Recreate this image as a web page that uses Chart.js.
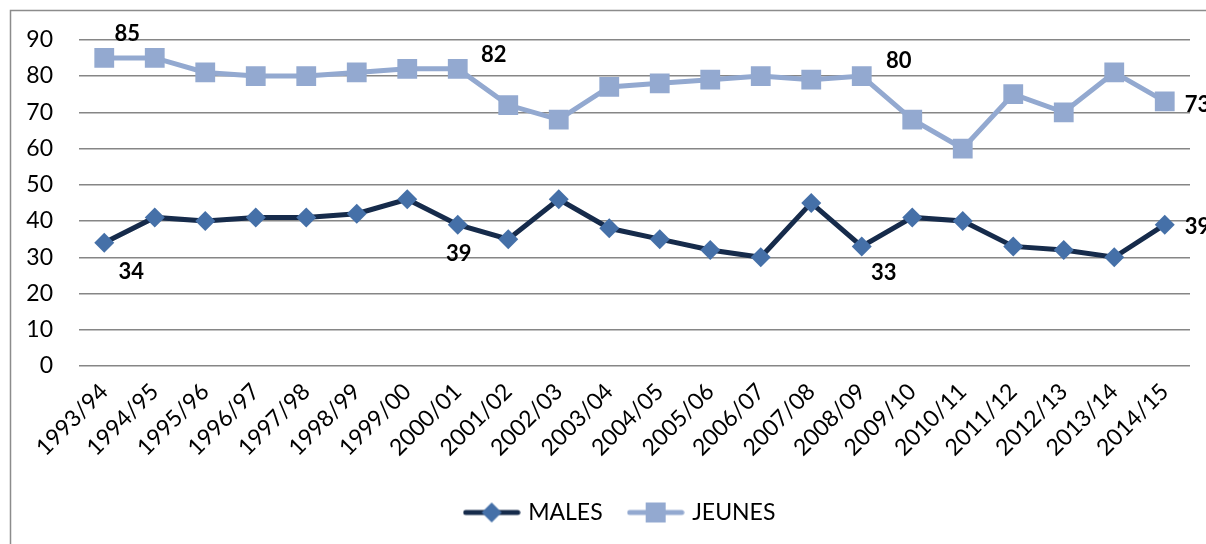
<!DOCTYPE html>
<html>
<head>
<meta charset="utf-8">
<script src="https://cdn.jsdelivr.net/npm/chart.js@4"></script>
<style>
  html, body { margin: 0; padding: 0; background: #fff; }
  #wrap { width: 1206px; height: 544px; position: relative; }
</style>
</head>
<body>
<div id="wrap"><canvas id="myChart" width="1206" height="544"></canvas></div>
<script>
const seasons = ['1993/94', '1994/95', '1995/96', '1996/97', '1997/98', '1998/99', '1999/00', '2000/01',
    '2001/02', '2002/03', '2003/04', '2004/05', '2005/06', '2006/07', '2007/08', '2008/09',
    '2009/10', '2010/11', '2011/12', '2012/13', '2013/14', '2014/15'];
const males = [34, 41, 40, 41, 41, 42, 46, 39, 35, 46, 38, 35, 32, 30, 45, 33, 41, 40, 33, 32, 30, 39];
const jeunes = [85, 85, 81, 80, 80, 81, 82, 82, 72, 68, 77, 78, 79, 80, 79, 80, 68, 60, 75, 70, 81, 73];
const yTicks = [0, 10, 20, 30, 40, 50, 60, 70, 80, 90];
// which points carry a value label
const malesLabelled = [0, 7, 15, 21];
const jeunesLabelled = [0, 7, 15, 21];

const FONT = 'Lato, "Open Sans", "DejaVu Sans", sans-serif';

// legend swatch: line with the marker in the middle
function legendSwatch(lineColor, markerColor, square) {
    const c = document.createElement('canvas');
    c.width = 58;
    c.height = 22;
    const g = c.getContext('2d');
    g.strokeStyle = lineColor;
    g.lineWidth = 5;
    g.lineCap = 'round';
    g.beginPath();
    g.moveTo(3, 11);
    g.lineTo(55, 11);
    g.stroke();
    g.fillStyle = markerColor;
    if (square) {
        g.fillRect(19, 1, 20, 20);
    } else {
        g.beginPath();
        g.moveTo(29, 1);
        g.lineTo(39, 11);
        g.lineTo(29, 21);
        g.lineTo(19, 11);
        g.closePath();
        g.fill();
    }
    return c;
}

const frame = {
    id: 'frame',
    beforeDraw(chart) {
        const ctx = chart.ctx;
        ctx.save();
        ctx.strokeStyle = '#8c8c8c';
        ctx.lineWidth = 1.5;
        ctx.beginPath();
        ctx.moveTo(10.5, 560);
        ctx.lineTo(10.5, 10.5);
        ctx.lineTo(1220, 10.5);
        ctx.stroke();
        ctx.restore();
    }
};

// legend is centred on the outer frame, a bit right of the canvas centre
const legendShift = {
    id: 'legendShift',
    afterLayout(chart) {
        chart.legend.left += 26;
        chart.legend.right += 26;
    }
};

const valueLabels = {
    id: 'valueLabels',
    afterDatasetsDraw(chart) {
        const ctx = chart.ctx;
        ctx.save();
        ctx.font = 'bold 22px ' + FONT;
        ctx.fillStyle = '#000';
        ctx.textBaseline = 'middle';
        const sets = [
            { ds: 0, idx: malesLabelled, offs: [[27, 29], [1, 29], [22, 27], [20, 2]] },
            { ds: 1, idx: jeunesLabelled, offs: [[23, -24], [36, -14], [37, -15], [20, 3]] }
        ];
        sets.forEach(s => {
            const meta = chart.getDatasetMeta(s.ds);
            s.idx.forEach((i, k) => {
                const p = meta.data[i];
                const v = chart.data.datasets[s.ds].data[i];
                const o = s.offs[k];
                ctx.textAlign = (i === seasons.length - 1) ? 'left' : 'center';
                ctx.fillText(String(v), p.x + o[0], p.y + o[1]);
            });
        });
        ctx.restore();
    }
};

const ctx = document.getElementById('myChart').getContext('2d');
new Chart(ctx, {
    type: 'line',
    data: {
        labels: seasons,
        datasets: [
            {
                label: 'MALES',
                data: males,
                borderColor: '#162b4b',
                backgroundColor: '#4570a8',
                pointBackgroundColor: '#4570a8',
                pointBorderWidth: 0,
                pointStyle: 'rectRot',
                pointRadius: 10,
                pointHoverRadius: 10,
                borderWidth: 5,
                tension: 0
            },
            {
                label: 'JEUNES',
                data: jeunes,
                borderColor: '#93a9d0',
                backgroundColor: '#93a9d0',
                pointBackgroundColor: '#93a9d0',
                pointBorderWidth: 0,
                pointStyle: 'rect',
                pointRadius: 14,
                pointHoverRadius: 14,
                borderWidth: 5,
                tension: 0
            }
        ]
    },
    options: {
        responsive: false,
        animation: false,
        layout: { padding: { top: 39, right: 16, left: 0, bottom: 10 } },
        scales: {
            x: {
                offset: true,
                grid: { display: false },
                border: { display: false },
                afterFit(scale) { scale.height = 107; },
                ticks: {
                    color: '#000',
                    font: { family: FONT, size: 23 },
                    maxRotation: 45,
                    minRotation: 45,
                    autoSkip: false,
                    padding: 4
                }
            },
            y: {
                min: 0,
                max: 90,
                afterBuildTicks(scale) {
                    scale.ticks = yTicks.map(v => ({ value: v }));
                },
                afterFit(scale) { scale.width = 79; },
                grid: { color: '#868686', lineWidth: 1.5, drawTicks: false },
                border: { display: false },
                ticks: {
                    color: '#000',
                    padding: 26,
                    font: { family: FONT, size: 23 }
                }
            }
        },
        plugins: {
            legend: {
                position: 'bottom',
                labels: {
                    usePointStyle: true,
                    pointStyleWidth: 50,
                    color: '#000',
                    padding: 28,
                    font: { family: FONT, size: 23 },
                    generateLabels(chart) {
                        return [
                            { text: 'MALES', pointStyle: legendSwatch('#162b4b', '#4570a8', false), datasetIndex: 0, fillStyle: '#4570a8', strokeStyle: '#162b4b', lineWidth: 0, fontColor: '#000' },
                            { text: 'JEUNES', pointStyle: legendSwatch('#93a9d0', '#93a9d0', true), datasetIndex: 1, fillStyle: '#93a9d0', strokeStyle: '#93a9d0', lineWidth: 0, fontColor: '#000' }
                        ];
                    }
                }
            },
            tooltip: { enabled: false }
        }
    },
    plugins: [frame, legendShift, valueLabels]
});
</script>
</body>
</html>
